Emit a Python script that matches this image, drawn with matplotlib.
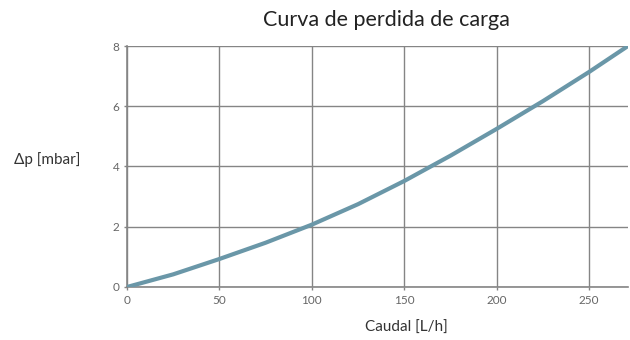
import matplotlib
matplotlib.use("Agg")
import matplotlib.pyplot as plt

plt.rcParams['font.family'] = ['Lato', 'DejaVu Sans']

# Flow rate [L/h] and pressure drop [mbar]
caudal = [0, 25, 50, 75, 100, 125, 150, 175, 200, 225, 250, 271]
delta_p = [0, 0.42, 0.93, 1.47, 2.07, 2.75, 3.52, 4.36, 5.25, 6.17, 7.14, 8.0]

x_ticks = [0, 50, 100, 150, 200, 250]
y_ticks = [0, 2, 4, 6, 8]

fig = plt.figure(figsize=(6.3, 3.4), dpi=100)
ax = fig.add_axes([0.2016, 0.1559, 0.7952, 0.7088])

ax.plot(caudal, delta_p, color='#6a97a8', lw=3, solid_capstyle='round', zorder=3)

ax.set_xlim(0, 271)
ax.set_ylim(0, 8)
ax.set_xticks(x_ticks)
ax.set_yticks(y_ticks)
ax.grid(True, color='#858585', lw=1)
ax.set_axisbelow(True)

for side in ['top', 'right']:
    ax.spines[side].set_visible(False)
for side in ['left', 'bottom']:
    ax.spines[side].set_color('#858585')
    ax.spines[side].set_linewidth(1.2)

ax.tick_params(colors='#858585', labelcolor='#666666', labelsize=8.5, length=2, width=1)

fig.text(0.614, 0.94, 'Curva de perdida de carga', ha='center', va='center',
         fontsize=15.5, color='#222222')
fig.text(0.075, 0.53, 'Δp [mbar]', ha='center', va='center', fontsize=11, color='#333333')
fig.text(0.645, 0.035, 'Caudal [L/h]', ha='center', va='center', fontsize=11, color='#333333')

fig.savefig('out.png', dpi=100)
